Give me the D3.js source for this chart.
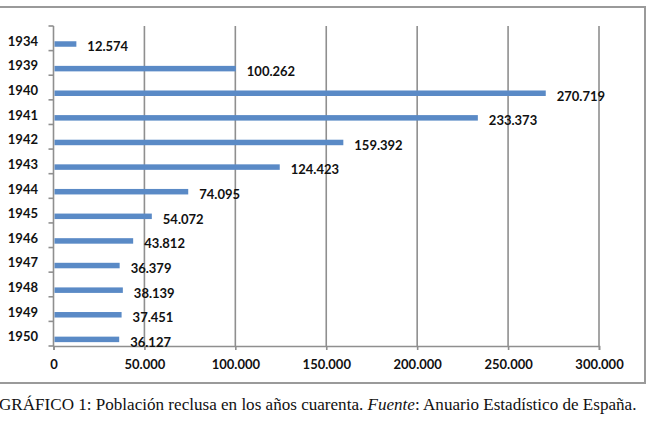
<!DOCTYPE html>
<html>
<head>
<meta charset="utf-8">
<script src="https://cdn.jsdelivr.net/npm/d3@7"></script>
<style>
    html, body { margin: 0; padding: 0; background: #fff; }
    svg { display: block; }
</style>
</head>
<body>
<div id="chart"></div>
<script>
const years = ['1934', '1939', '1940', '1941', '1942', '1943', '1944', '1945', '1946', '1947', '1948', '1949', '1950'];
const prisoners = [12574, 100262, 270719, 233373, 159392, 124423, 74095, 54072, 43812, 36379, 38139, 37451, 36127];
const xTicks = [0, 50000, 100000, 150000, 200000, 250000, 300000];

const width = 647;
const height = 424;

const plot = {
    left: 53.5,
    right: 599,
    top: 26,
    bottom: 346
};

const labelFont = 'Lato, "Open Sans", sans-serif';

const esLocale = d3.formatLocale({
    decimal: ',',
    thousands: '.',
    grouping: [3],
    currency: ['', ' €']
});
const fmt = esLocale.format(',d');

const data = years.map((year, i) => ({ year: year, value: prisoners[i] }));

const svg = d3.select('#chart')
    .append('svg')
    .attr('width', width)
    .attr('height', height);

// outer frame of the excel chart, left side falls outside the picture
svg.append('rect')
    .attr('x', -5)
    .attr('y', 7)
    .attr('width', 650)
    .attr('height', 376)
    .attr('fill', 'none')
    .attr('stroke', '#9a9a9a')
    .attr('stroke-width', 2);

const xScale = d3.scaleLinear()
    .domain([0, 300000])
    .range([plot.left, plot.right]);

const yScale = d3.scaleBand()
    .domain(years)
    .range([plot.top, plot.bottom])
    .padding(0);

const bw = yScale.bandwidth();

// vertical grid
svg.append('g')
    .selectAll('line')
    .data(xTicks.slice(1))
    .enter()
    .append('line')
    .attr('x1', d => xScale(d))
    .attr('x2', d => xScale(d))
    .attr('y1', plot.top)
    .attr('y2', plot.bottom)
    .attr('stroke', '#8f8f8f')
    .attr('stroke-width', 1.6);

const xAxis = svg.append('g')
    .attr('transform', `translate(0, ${plot.bottom})`)
    .call(d3.axisBottom(xScale).tickValues(xTicks).tickFormat(fmt).tickSizeOuter(0).tickSize(4).tickPadding(10));

xAxis.select('.domain')
    .attr('stroke', '#8f8f8f')
    .attr('stroke-width', 1.6);

xAxis.selectAll('.tick line')
    .attr('stroke', '#8f8f8f')
    .attr('stroke-width', 1.6);

xAxis.selectAll('.tick text')
    .style('font-family', labelFont)
    .style('font-size', '13px')
    .style('font-weight', 'bold')
    .attr('fill', '#111');

// left axis with ticks on the category boundaries
svg.append('line')
    .attr('x1', plot.left)
    .attr('x2', plot.left)
    .attr('y1', plot.top)
    .attr('y2', plot.bottom)
    .attr('stroke', '#8f8f8f')
    .attr('stroke-width', 1.6);

svg.append('g')
    .selectAll('line')
    .data(years.concat(['end']))
    .enter()
    .append('line')
    .attr('x1', plot.left - 5)
    .attr('x2', plot.left)
    .attr('y1', (d, i) => plot.top + i * bw)
    .attr('y2', (d, i) => plot.top + i * bw)
    .attr('stroke', '#8f8f8f')
    .attr('stroke-width', 1.6);

svg.append('g')
    .selectAll('text')
    .data(years)
    .enter()
    .append('text')
    .attr('x', 38)
    .attr('y', d => yScale(d) + bw / 2 + 3)
    .attr('dy', '0.35em')
    .attr('text-anchor', 'end')
    .style('font-family', labelFont)
    .style('font-size', '13px')
    .style('font-weight', 'bold')
    .attr('fill', '#111')
    .text(d => d);

const barH = 5.5;

svg.append('g')
    .selectAll('rect')
    .data(data)
    .enter()
    .append('rect')
    .attr('x', xScale(0) + 1)
    .attr('y', d => yScale(d.year) + bw / 2 + 5.7 - barH / 2)
    .attr('width', d => xScale(d.value) - xScale(0) - 1)
    .attr('height', barH)
    .attr('fill', '#5a8ac6');

svg.append('g')
    .selectAll('text')
    .data(data)
    .enter()
    .append('text')
    .attr('x', d => xScale(d.value) + 11)
    .attr('y', d => yScale(d.year) + bw / 2 + 8.5)
    .attr('dy', '0.35em')
    .style('font-family', labelFont)
    .style('font-size', '13px')
    .style('font-weight', 'bold')
    .attr('fill', '#111')
    .text(d => fmt(d.value));

const caption = svg.append('text')
    .attr('x', -1)
    .attr('y', 410)
    .style('font-family', '"Liberation Serif", "DejaVu Serif", serif')
    .style('font-size', '17.5px')
    .attr('fill', '#111');

caption.append('tspan').text('GRÁFICO 1: Población reclusa en los años cuarenta. ');
caption.append('tspan').style('font-style', 'italic').text('Fuente');
caption.append('tspan').text(': Anuario Estadístico de España.');

// scale the caption so it runs to the right edge like in the original
const natural = caption.node().getComputedTextLength();
caption.style('font-size', (17.5 * 638 / natural).toFixed(2) + 'px');
</script>
</body>
</html>
